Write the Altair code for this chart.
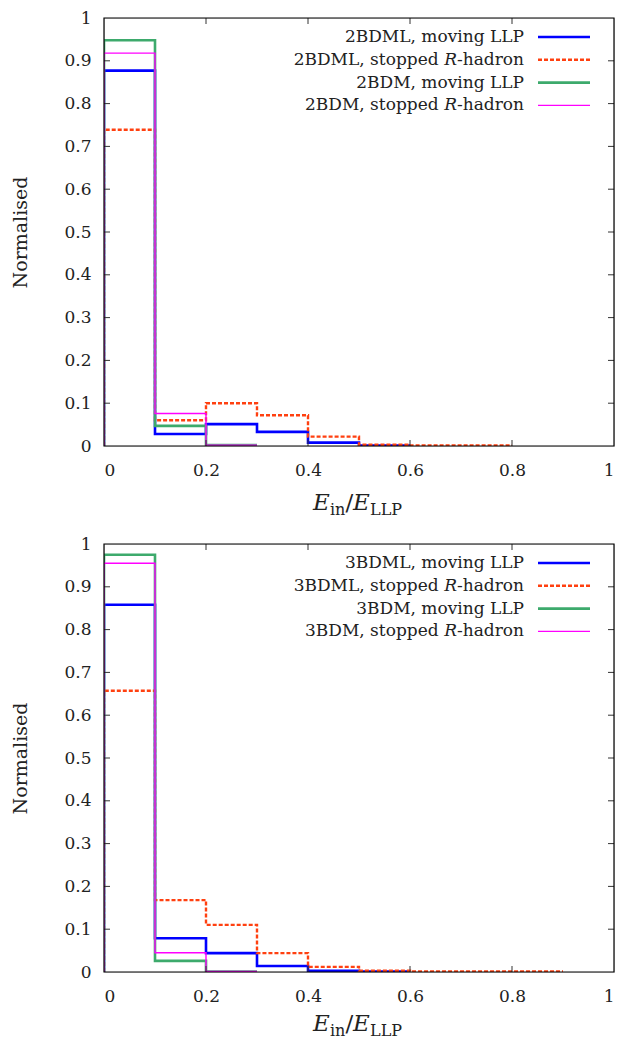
import altair as alt
import pandas as pd

# ---------------- data (bin width 0.1, bins start at 0) ----------------
bin_width = 0.1
x_ticks = [0, 0.2, 0.4, 0.6, 0.8, 1]
y_ticks = [0, 0.1, 0.2, 0.3, 0.4, 0.5, 0.6, 0.7, 0.8, 0.9, 1]

top_names = ["2BDML, moving LLP", "2BDML, stopped R-hadron", "2BDM, moving LLP", "2BDM, stopped R-hadron"]
top_2bdml_moving = [0.877, 0.028, 0.051, 0.033, 0.008, 0.001]
top_2bdml_stopped = [0.739, 0.060, 0.100, 0.072, 0.022, 0.003, 0.001, 0.001]
top_2bdm_moving = [0.948, 0.047, 0.002]
top_2bdm_stopped = [0.918, 0.076, 0.002]

bot_names = ["3BDML, moving LLP", "3BDML, stopped R-hadron", "3BDM, moving LLP", "3BDM, stopped R-hadron"]
bot_3bdml_moving = [0.858, 0.079, 0.044, 0.014, 0.003, 0.001]
bot_3bdml_stopped = [0.657, 0.168, 0.110, 0.044, 0.012, 0.003, 0.001, 0.001, 0.001]
bot_3bdm_moving = [0.975, 0.026, 0.001]
bot_3bdm_stopped = [0.955, 0.045, 0.001]

# ---------------- styles ----------------
FONT = "DejaVu Serif"
W, H = 510, 428
styles = [
    dict(color="#0000ff", strokeWidth=2.6),
    dict(color="#ff4010", strokeWidth=2.4, strokeDash=[4, 2]),
    dict(color="#3daa6c", strokeWidth=2.6),
    dict(color="#ff00ff", strokeWidth=1.4),
]

xscale = alt.Scale(domain=[0, 1], nice=False, zero=False)
yscale = alt.Scale(domain=[0, 1], nice=False, zero=False)

axis_x = alt.Axis(values=x_ticks, format="~g", ticks=False, domain=False, grid=False,
                  labelFont=FONT, labelFontSize=17, labelColor="#222222", labelPadding=16,
                  title=None)
axis_y = alt.Axis(values=y_ticks, format="~g", ticks=False, domain=False, grid=False,
                  labelFont=FONT, labelFontSize=17, labelColor="#222222", labelPadding=13,
                  title="Normalised", titleFont=FONT, titleFontSize=19, titleFontWeight="normal",
                  titleColor="#222222", titlePadding=33)


def step_df(vals):
    xs = [0.0] + [round(i * bin_width, 3) for i in range(len(vals))] + [round(len(vals) * bin_width, 3)]
    ys = [0.0] + list(vals) + [vals[-1]]
    return pd.DataFrame({"x": xs, "y": ys, "i": list(range(len(xs)))})


def panel(series, names, title_base):
    layers = []
    for k, (vals, st) in enumerate(zip(series, styles)):
        kw = dict(interpolate="step-after", color=st["color"], strokeWidth=st["strokeWidth"],
                  clip=True)
        if "strokeDash" in st:
            kw["strokeDash"] = st["strokeDash"]
        layers.append(alt.Chart(step_df(vals)).mark_line(**kw).encode(
            x=alt.X("x:Q", scale=xscale, axis=axis_x),
            y=alt.Y("y:Q", scale=yscale, axis=axis_y),
            order=alt.Order("i:Q")))

    # inward ticks (mirror on all four sides)
    xt = pd.DataFrame({"x": x_ticks[1:-1]})
    yt = pd.DataFrame({"y": y_ticks[1:-1]})
    tick_col = "#333333"
    layers.append(alt.Chart(xt).mark_rule(color=tick_col, strokeWidth=1).encode(
        x=alt.X("x:Q", scale=xscale, axis=axis_x), y=alt.value(H), y2=alt.value(H - 6)))
    layers.append(alt.Chart(xt).mark_rule(color=tick_col, strokeWidth=1).encode(
        x=alt.X("x:Q", scale=xscale, axis=axis_x), y=alt.value(0), y2=alt.value(6)))
    layers.append(alt.Chart(yt).mark_rule(color=tick_col, strokeWidth=1).encode(
        y=alt.Y("y:Q", scale=yscale, axis=axis_y), x=alt.value(0), x2=alt.value(6)))
    layers.append(alt.Chart(yt).mark_rule(color=tick_col, strokeWidth=1).encode(
        y=alt.Y("y:Q", scale=yscale, axis=axis_y), x=alt.value(W - 6), x2=alt.value(W)))

    # frame
    layers.append(alt.Chart(pd.DataFrame({"f": [1]})).mark_rect(
        fill=None, stroke="black", strokeWidth=1.2).encode(
        x=alt.value(0), x2=alt.value(W), y=alt.value(0), y2=alt.value(H)))

    # legend (inside, top right)
    text_right = 420
    row_y = [19, 41.8, 64.6, 87.4]
    for k, (name, st) in enumerate(zip(names, styles)):
        ry = row_y[k]
        kw = dict(color=st["color"], strokeWidth=st["strokeWidth"])
        if "strokeDash" in st:
            kw["strokeDash"] = st["strokeDash"]
        layers.append(alt.Chart(pd.DataFrame({"n": [name]})).mark_rule(**kw).encode(
            x=alt.value(434), x2=alt.value(486), y=alt.value(ry)))
        if "R-hadron" in name:
            prefix, suffix = name.split(" R")
            parts = [(suffix, text_right, "normal"),
                     ("R", text_right - 67, "italic"),
                     (prefix, text_right - 67 - 13 - 5.4, "normal")]
            for txt, xr, style in parts:
                layers.append(alt.Chart(pd.DataFrame({"label": [txt]})).mark_text(
                    font=FONT, fontSize=17, fontStyle=style, align="right", baseline="middle",
                    color="#222222").encode(x=alt.value(xr), y=alt.value(ry), text="label:N"))
        else:
            layers.append(alt.Chart(pd.DataFrame({"label": [name]})).mark_text(
                font=FONT, fontSize=17, align="right", baseline="middle", color="#222222").encode(
                x=alt.value(text_right), y=alt.value(ry), text="label:N"))

    # x-axis title E_in / E_LLP
    title_parts = [("E", 209, 23, "italic", 0), ("in", 226, 16, "normal", 4.5),
                   ("/", 241.5, 23, "normal", 0), ("E", 249, 23, "italic", 0),
                   ("LLP", 266, 16, "normal", 4.5)]
    for txt, xl, fs, style, dy in title_parts:
        layers.append(alt.Chart(pd.DataFrame({"label": [txt]})).mark_text(
            font=FONT, fontSize=fs, fontStyle=style, align="left", baseline="alphabetic",
            color="#222222").encode(x=alt.value(xl), y=alt.value(title_base + dy), text="label:N"))

    return alt.layer(*layers).properties(width=W, height=H)


top = panel([top_2bdml_moving, top_2bdml_stopped, top_2bdm_moving, top_2bdm_stopped], top_names, 492)
bot = panel([bot_3bdml_moving, bot_3bdml_stopped, bot_3bdm_moving, bot_3bdm_stopped], bot_names, 487)

chart = alt.vconcat(top, bot, spacing=16).properties(
    padding={"left": 3, "top": 0, "right": 0, "bottom": 0}
).configure_view(strokeWidth=0).configure(background="white")

chart.save("out.html", embed_options={"renderer": "svg", "actions": False})
